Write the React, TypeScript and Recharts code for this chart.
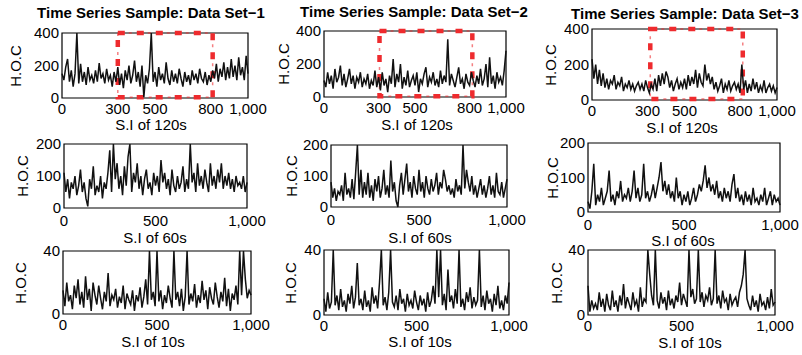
import React from 'react';
import { LineChart, Line, XAxis, YAxis, ReferenceArea } from 'recharts';

const SET1_120S = [
  150, 110, 190, 240, 100, 170, 70, 150, 400, 90,
  210, 100, 160, 80, 190, 110, 140, 90, 170, 100,
  215, 120, 150, 90, 180, 110, 140, 70, 160, 100,
  190, 80, 150, 60, 170, 110, 200, 90, 140, 230,
  100, 160, 70, 200, 5, 140, 90, 180, 400, 100,
  160, 70, 190, 110, 150, 90, 220, 120, 80, 170,
  100, 150, 90, 180, 120, 70, 160, 100, 140, 80,
  170, 110, 150, 90, 180, 120, 100, 160, 80, 140,
  100, 170, 120, 210, 100, 180, 130, 220, 110, 190,
  120, 240, 130, 200, 110, 250, 140, 190, 110, 260, 150,
];
const SET2_120S = [
  100, 60, 150, 80, 130, 50, 170, 90, 120, 190,
  70, 140, 60, 110, 170, 80, 130, 50, 120, 90,
  150, 60, 110, 80, 140, 50, 100, 70, 160, 60,
  120, 40, 150, 70, 110, 30, 130, 80, 230, 60,
  140, 90, 200, 50, 120, 70, 160, 60, 100, 130,
  70, 150, 30, 110, 80, 140, 180, 60, 120, 90,
  150, 70, 110, 60, 160, 80, 130, 90, 350, 70,
  140, 100, 60, 120, 180, 80, 110, 50, 140, 90,
  70, 150, 100, 60, 130, 80, 170, 70, 110, 200,
  60, 240, 80, 130, 50, 150, 90, 120, 70, 160, 280,
];
const SET3_120S = [
  230, 120, 200, 90, 170, 80, 150, 70, 120, 60,
  110, 90, 140, 60, 100, 80, 130, 50, 90, 70,
  110, 60, 90, 50, 80, 100, 60, 90, 50, 110,
  70, 40, 90, 60, 120, 50, 140, 80, 150, 90,
  160, 130, 70, 110, 50, 90, 120, 60, 100, 70,
  120, 60, 140, 80, 130, 90, 170, 70, 150, 100,
  80, 200, 110, 150, 90, 130, 60, 100, 50, 80,
  120, 40, 90, 60, 110, 50, 80, 100, 60, 90,
  40, 200, 60, 110, 40, 90, 50, 120, 60, 100,
  40, 80, 50, 110, 40, 70, 90, 50, 80, 40, 70,
];
const SET1_60S = [
  110, 50, 90, 30, 80, 60, 100, 40, 70, 120,
  50, 80, 30, 5, 90, 60, 130, 40, 70, 50,
  100, 30, 80, 60, 110, 180, 50, 200, 90, 140,
  60, 100, 40, 130, 70, 160, 200, 50, 110, 80,
  140, 60, 100, 40, 90, 120, 60, 80, 40, 110,
  70, 100, 50, 150, 80, 110, 60, 90, 40, 120,
  70, 50, 100, 60, 80, 130, 50, 90, 60, 200,
  80, 110, 50, 140, 70, 100, 60, 120, 80, 50,
  140, 70, 100, 60, 120, 80, 140, 60, 100, 70,
  110, 60, 90, 50, 100, 70, 80, 60, 100, 50, 80,
];
const SET2_60S = [
  80, 30, 60, 20, 50, 40, 70, 20, 110, 40,
  60, 30, 90, 25, 110, 200, 40, 120, 30, 80,
  40, 110, 30, 70, 20, 90, 50, 100, 30, 60,
  120, 40, 70, 30, 150, 50, 80, 20, 0, 70,
  110, 40, 90, 140, 50, 80, 30, 100, 60, 40,
  120, 50, 80, 30, 100, 60, 40, 90, 50, 70,
  110, 40, 80, 60, 120, 90, 50, 70, 40, 60,
  30, 90, 50, 70, 40, 200, 60, 120, 80, 50,
  100, 40, 70, 30, 60, 90, 40, 70, 30, 60,
  100, 40, 70, 30, 110, 50, 40, 80, 30, 60, 90,
];
const SET3_60S = [
  30, 10, 60, 140, 20, 50, 30, 70, 20, 40,
  60, 120, 30, 50, 20, 60, 40, 90, 30, 50,
  40, 70, 30, 60, 120, 40, 70, 30, 50, 140,
  40, 60, 30, 50, 80, 40, 70, 100, 145, 60,
  90, 50, 80, 40, 60, 30, 100, 40, 60, 20,
  50, 30, 60, 20, 40, 70, 30, 50, 80, 60,
  90, 135, 70, 100, 60, 80, 50, 90, 40, 60,
  30, 70, 40, 60, 30, 80, 110, 40, 70, 30,
  50, 20, 60, 30, 50, 20, 70, 30, 40, 20,
  50, 30, 70, 20, 40, 60, 20, 50, 30, 40, 20,
];
const SET1_10S = [
  15, 5, 20, 8, 12, 3, 18, 10, 22, 6,
  14, 4, 24, 9, 16, 2, 20, 12, 6, 18,
  10, 3, 14, 8, 26, 5, 12, 9, 16, 4,
  11, 7, 18, 3, 13, 9, 6, 15, 2, 12,
  8, 17, 4, 11, 22, 6, 40, 9, 14, 5,
  40, 8, 15, 3, 12, 7, 18, 10, 4, 40,
  9, 14, 5, 16, 2, 11, 40, 6, 13, 8,
  19, 4, 12, 7, 21, 9, 15, 3, 17, 10,
  6, 20, 11, 4, 14, 8, 23, 5, 16, 2,
  13, 9, 18, 6, 40, 12, 40, 22, 10, 15, 12,
];
const SET2_10S = [
  10, 2, 14, 4, 8, 40, 6, 12, 3, 16,
  5, 9, 2, 13, 7, 18, 4, 11, 32, 6,
  10, 3, 15, 5, 9, 2, 17, 7, 12, 4,
  20, 40, 6, 11, 3, 14, 40, 8, 5, 12,
  3, 16, 7, 10, 2, 13, 6, 9, 4, 15,
  8, 3, 12, 6, 10, 2, 14, 5, 9, 18,
  7, 40, 11, 40, 6, 13, 3, 28, 8, 12,
  4, 16, 7, 40, 5, 10, 3, 14, 8, 17,
  4, 11, 6, 9, 40, 5, 12, 3, 15, 7,
  10, 2, 13, 6, 18, 4, 9, 3, 12, 7, 20,
];
const SET3_10S = [
  18, 2, 9, 4, 7, 3, 14, 5, 10, 2,
  13, 6, 3, 15, 5, 9, 2, 12, 6, 19,
  4, 11, 7, 3, 14, 6, 9, 2, 17, 5,
  10, 8, 40, 25, 12, 6, 40, 9, 4, 14,
  7, 11, 3, 15, 6, 10, 4, 12, 8, 20,
  6, 13, 9, 5, 40, 11, 16, 7, 10, 40,
  8, 14, 5, 12, 9, 17, 6, 10, 40, 7,
  12, 4, 15, 8, 10, 3, 13, 6, 9, 11,
  5, 14, 18, 25, 40, 10, 6, 3, 12, 5,
  9, 2, 13, 6, 8, 3, 11, 4, 16, 6, 8,
];

const TITLES = ['Time Series Sample: Data Set\u22121', 'Time Series Sample: Data Set\u22122', 'Time Series Sample: Data Set\u22123'];
const X_LABELS = ['S.I of 120s', 'S.I of 60s', 'S.I of 10s'];
const Y_LABEL = 'H.O.C';
const X_TICKS_120 = [0, 300, 500, 800, 1000];
const X_TICKS = [0, 500, 1000];
const Y_TICKS = [[0, 200, 400], [0, 100, 200], [0, 40]];
const RED_SPANS = [[300, 810], [305, 815], [315, 815]];

const FONT = '"Liberation Sans", Arial, Helvetica, sans-serif';
const RED = '#ee2b2e';

type Box = { l: number; t: number; r: number; b: number };

const fmt = (v: number) => v.toLocaleString('en-US');

const Panel = ({ values, box, yTicks, xTicks, red, xGap }: { values: number[]; box: Box; yTicks: number[]; xTicks: number[]; red?: number[]; xGap: number }) => {
  const data = values.map((v, i) => ({ x: i * 10, v }));
  const yMax = yTicks[yTicks.length - 1];
  const w = box.r - box.l;
  const h = box.b - box.t;
  return (
    <div style={{ position: 'absolute', left: box.l - 50, top: box.t - 10 }}>
      <LineChart width={w + 75} height={h + 40} data={data} margin={{ top: 10, right: 25, left: 0, bottom: 0 }} style={{ overflow: 'visible' }}>
        <XAxis dataKey="x" type="number" domain={[0, 1000]} ticks={xTicks} interval={0} tickFormatter={fmt}
          tick={{ fill: '#000', fontSize: 15, fontFamily: FONT }} tickLine={false} tickSize={0} tickMargin={xGap} axisLine={false} height={30} />
        <YAxis type="number" domain={[0, yMax]} ticks={yTicks} interval={0} width={50}
          tick={{ fill: '#000', fontSize: 15, fontFamily: FONT }} tickLine={false} tickSize={0} tickMargin={3} axisLine={false} />
        <Line type="linear" dataKey="v" stroke="#111" strokeWidth={1.5} dot={false} isAnimationActive={false} />
        <ReferenceArea x1={0} x2={1000} y1={0} y2={yMax} fill="none" stroke="#000" strokeWidth={1.2} ifOverflow="visible" />
        {red && (
          <ReferenceArea x1={red[0]} x2={red[1]} y1={5} y2={yMax} fill="none" stroke={RED} strokeWidth={4.5} strokeDasharray="7 12" ifOverflow="visible" />
        )}
        {red && (
          <ReferenceArea x1={red[0]} x2={red[1]} y1={5} y2={yMax} fill="none" stroke={RED} strokeOpacity={0.6} strokeWidth={1.5} strokeDasharray="0 11 3 5" ifOverflow="visible" />
        )}
      </LineChart>
    </div>
  );
};

const Text = ({ x, y, children, bold, rotate }: { x: number; y: number; children: React.ReactNode; bold?: boolean; rotate?: boolean }) => (
  <div style={{
    position: 'absolute', left: x, top: y, transform: `translate(-50%, -50%)${rotate ? ' rotate(-90deg)' : ''}`,
    fontFamily: FONT, fontSize: 15, fontWeight: bold ? 700 : 400, whiteSpace: 'nowrap', color: '#000', lineHeight: 1,
  }}>{children}</div>
);

const BOXES: Box[][] = [
  [{ l: 62, t: 33, r: 248, b: 98 }, { l: 324, t: 31, r: 506, b: 97 }, { l: 592, t: 29, r: 777, b: 100 }],
  [{ l: 64, t: 144, r: 247, b: 208 }, { l: 331, t: 145, r: 507, b: 207 }, { l: 588, t: 143, r: 780, b: 212 }],
  [{ l: 63, t: 251, r: 251, b: 314 }, { l: 324, t: 250, r: 509, b: 315 }, { l: 588, t: 250, r: 775, b: 315 }],
];
const SERIES = [
  [SET1_120S, SET2_120S, SET3_120S],
  [SET1_60S, SET2_60S, SET3_60S],
  [SET1_10S, SET2_10S, SET3_10S],
];
const TITLE_POS = [[151, 12], [414, 11], [685, 13]];
const XLABEL_POS = [
  [[151, 124], [417, 124], [682, 127]],
  [[155, 237], [420, 237], [683, 240]],
  [[153, 341], [420, 341], [690, 342]],
];
const YLABEL_X = [[15, 283, 550], [22, 291, 552], [20, 290, 556]];
const X_GAPS = [5, 7, 5];

export default function App() {
  return (
    <div style={{ position: 'absolute', left: 0, top: 0, width: 802, height: 355, background: '#fff', overflow: 'hidden' }}>
      {TITLES.map((t, i) => (
        <Text key={t} x={TITLE_POS[i][0]} y={TITLE_POS[i][1]} bold>{t}</Text>
      ))}
      {BOXES.map((row, r) => row.map((box, c) => (
        <React.Fragment key={`${r}-${c}`}>
          <Panel values={SERIES[r][c]} box={box} yTicks={Y_TICKS[r]} xTicks={r === 0 ? X_TICKS_120 : X_TICKS}
            red={r === 0 ? RED_SPANS[c] : undefined} xGap={X_GAPS[r]} />
          <Text x={XLABEL_POS[r][c][0]} y={XLABEL_POS[r][c][1]}>{X_LABELS[r]}</Text>
          <Text x={YLABEL_X[r][c]} y={(box.t + box.b) / 2} rotate>{Y_LABEL}</Text>
        </React.Fragment>
      )))}
    </div>
  );
}
